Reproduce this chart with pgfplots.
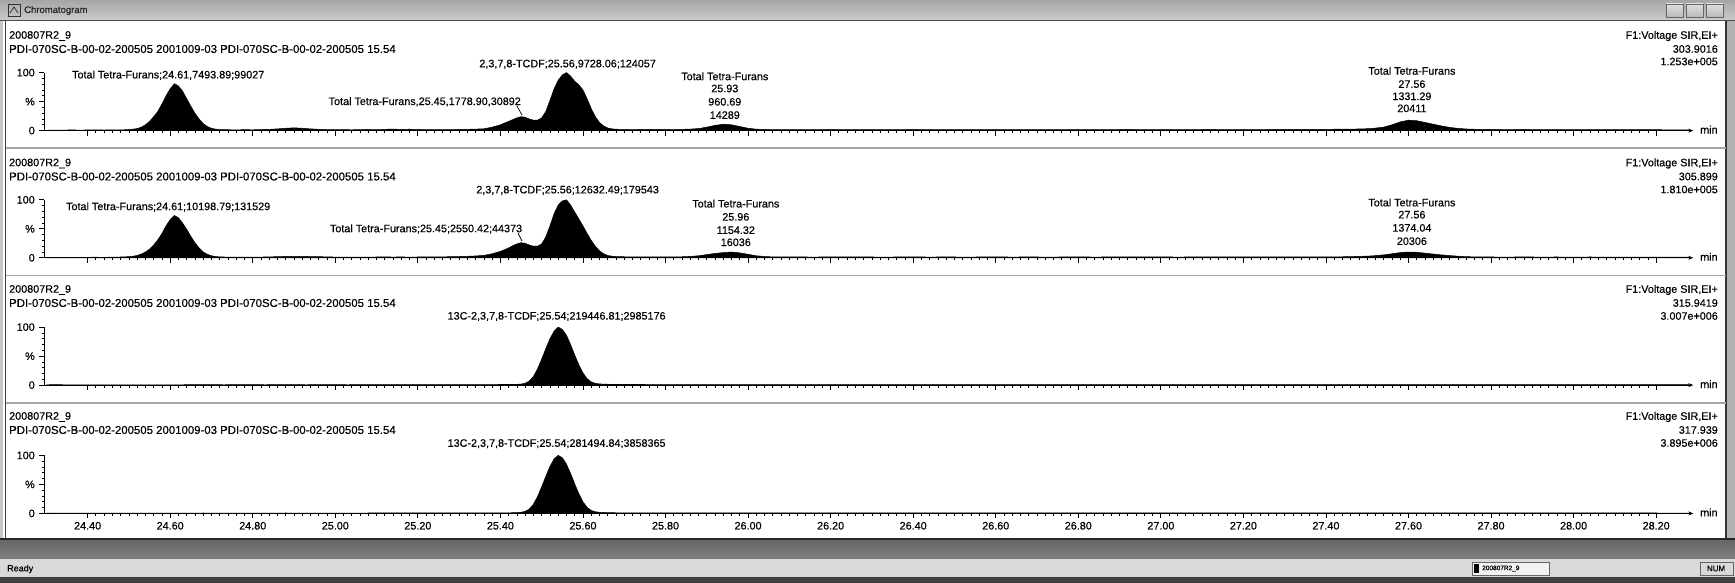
\documentclass[border=0pt]{standalone}
\usepackage{pgfplots}
\pgfplotsset{compat=1.18}
\usepackage{pgfplotstable}
\usepackage{fontspec}
\setmainfont{Liberation Sans}[BoldFont=Liberation Sans, BoldFeatures={FakeBold=0.4}]
\usetikzlibrary{arrows.meta}
\newcommand{\fs}{\fontsize{10.8}{12}\selectfont\bfseries}
\newcommand{\txt}[4][center]{\node[anchor=#1, inner sep=0pt, font=\fs] at (#2pt,-#3pt) {#4};}

\pgfplotstableread{
x y
24.30 0.5
24.32 1.0
24.34 0.8
24.36 1.2
24.38 0.9
24.40 1.1
24.42 1.3
24.44 1.0
24.46 1.4
24.48 1.2
24.50 1.8
24.51 2.5
24.52 3.5
24.53 6
24.54 10
24.55 16
24.56 24
24.57 33
24.58 46
24.59 60
24.60 72
24.61 81
24.62 77
24.63 68
24.64 55
24.65 42
24.66 30
24.67 20
24.68 12
24.69 7
24.70 4
24.71 2.5
24.72 1.8
24.74 1.5
24.76 1.3
24.78 1.6
24.80 1.4
24.82 1.8
24.84 2.2
24.86 3.0
24.88 4.0
24.90 4.8
24.92 4.0
24.94 3.0
24.96 2.2
24.98 1.8
25.00 1.5
25.02 1.6
25.04 1.4
25.06 1.8
25.08 2.0
25.10 1.6
25.12 2.2
25.14 2.6
25.16 2.0
25.18 2.4
25.20 2.0
25.22 1.7
25.24 1.5
25.26 1.6
25.28 1.8
25.30 2.0
25.32 2.2
25.34 2.6
25.36 3.2
25.37 4.5
25.38 6
25.39 8
25.40 10
25.41 13
25.42 16
25.43 19
25.44 22
25.45 24
25.46 23
25.47 20
25.48 18
25.49 18
25.50 22
25.51 33
25.52 52
25.53 72
25.54 87
25.55 96
25.56 100
25.57 94
25.58 85
25.59 79
25.60 70
25.61 55
25.62 38
25.63 24
25.64 14
25.65 8
25.66 4.5
25.67 3
25.68 2.4
25.70 2.0
25.72 1.8
25.74 2.0
25.76 2.2
25.78 1.9
25.80 2.0
25.82 1.8
25.84 2.2
25.86 2.6
25.88 3.5
25.90 6
25.92 9
25.94 11
25.96 10
25.98 7
26.00 4
26.02 2.5
26.04 2.0
26.06 1.8
26.08 1.6
26.12 1.8
26.16 1.5
26.20 2.0
26.24 1.6
26.28 1.8
26.32 1.5
26.36 1.7
26.40 2.0
26.44 1.6
26.48 1.8
26.52 1.5
26.56 1.7
26.60 1.9
26.64 1.6
26.68 1.8
26.72 1.5
26.76 1.7
26.80 1.9
26.84 1.6
26.88 1.8
26.92 2.0
26.96 1.7
27.00 1.9
27.04 1.6
27.08 1.8
27.12 2.0
27.16 1.7
27.20 1.9
27.24 1.8
27.28 2.0
27.32 2.2
27.36 2.0
27.40 2.2
27.44 2.5
27.48 2.8
27.51 3.5
27.54 6
27.56 10
27.58 15
27.60 18
27.62 17
27.64 14
27.66 11
27.68 8
27.70 5.5
27.72 3.8
27.74 2.8
27.76 2.3
27.80 2.0
27.84 1.8
27.88 2.0
27.92 1.7
27.96 1.9
28.00 1.6
28.04 1.8
28.08 1.5
28.12 1.7
28.16 1.6
28.20 1.5
28.24 1.4
28.28 1.3
}\panelA

\pgfplotstableread{
x y
24.30 0.4
24.32 0.8
24.34 0.6
24.36 0.9
24.38 0.7
24.40 0.9
24.42 1.0
24.44 0.8
24.46 1.1
24.48 1.4
24.50 2.0
24.51 2.8
24.52 4
24.53 6.5
24.54 10
24.55 15
24.56 22
24.57 31
24.58 42
24.59 55
24.60 66
24.61 73
24.62 69
24.63 60
24.64 49
24.65 37
24.66 26
24.67 17
24.68 10
24.69 6
24.70 3.5
24.71 2.2
24.72 1.6
24.74 1.2
24.76 1.0
24.78 1.2
24.80 1.1
24.82 1.3
24.84 1.6
24.86 2.0
24.88 2.4
24.90 2.6
24.92 2.4
24.94 2.2
24.96 2.0
24.98 1.6
25.00 1.3
25.02 1.2
25.04 1.1
25.06 1.3
25.08 1.2
25.10 1.4
25.12 1.6
25.14 1.3
25.16 1.5
25.18 1.2
25.20 1.4
25.22 1.6
25.24 1.4
25.26 1.7
25.28 1.9
25.30 2.2
25.32 2.6
25.34 3.2
25.36 4.2
25.37 5.5
25.38 7
25.39 9
25.40 11
25.41 14
25.42 17
25.43 21
25.44 24
25.45 26
25.46 25
25.47 22
25.48 20
25.49 20
25.50 24
25.51 36
25.52 55
25.53 76
25.54 91
25.55 98
25.56 100
25.57 91
25.58 79
25.59 67
25.60 55
25.61 42
25.62 30
25.63 20
25.64 12
25.65 7
25.66 4
25.67 2.8
25.68 2.2
25.70 1.8
25.72 1.6
25.74 1.5
25.76 1.7
25.78 1.5
25.80 1.6
25.82 1.4
25.84 1.8
25.86 2.4
25.88 3.5
25.90 5.5
25.92 7.5
25.94 9
25.96 10
25.98 8.5
26.00 6
26.02 3.5
26.04 2.2
26.06 1.6
26.08 1.4
26.12 1.5
26.16 1.3
26.20 1.6
26.24 1.4
26.28 1.5
26.32 1.3
26.36 1.4
26.40 1.6
26.44 1.3
26.48 1.5
26.52 1.3
26.56 1.4
26.60 1.6
26.64 1.3
26.68 1.5
26.72 1.3
26.76 1.4
26.80 1.6
26.84 1.3
26.88 1.5
26.92 1.7
26.96 1.4
27.00 1.6
27.04 1.3
27.08 1.5
27.12 1.7
27.16 1.4
27.20 1.6
27.24 1.5
27.28 1.6
27.32 1.8
27.36 1.6
27.40 1.7
27.44 1.8
27.48 2.4
27.51 3.2
27.54 5
27.56 7
27.58 9
27.60 10
27.62 9.5
27.64 8
27.66 6.5
27.68 5
27.70 3.8
27.72 2.8
27.74 2.0
27.76 1.6
27.80 1.4
27.84 1.3
27.88 1.5
27.92 1.3
27.96 1.4
28.00 1.2
28.04 1.4
28.08 1.2
28.12 1.3
28.16 1.2
28.20 1.1
28.24 1.0
28.28 1.0
}\panelB

\pgfplotstableread{
x y
24.30 0.4
24.32 1.0
24.34 0.6
24.38 0.5
24.43 0.6
24.48 0.5
24.53 0.6
24.58 0.5
24.63 0.6
24.68 0.7
24.73 0.6
24.78 0.7
24.83 0.6
24.88 0.7
24.93 0.6
24.98 0.7
25.03 0.6
25.08 0.7
25.13 0.8
25.18 0.9
25.23 0.9
25.28 0.9
25.33 1.0
25.38 1.0
25.42 1.1
25.44 1.3
25.45 1.8
25.46 3.2
25.47 7
25.48 15
25.49 28
25.50 45
25.51 63
25.52 80
25.53 93
25.54 100
25.55 96
25.56 86
25.57 70
25.58 52
25.59 35
25.60 21
25.61 11
25.62 5.5
25.63 3
25.64 2
25.66 1.5
25.68 1.2
25.72 1.1
25.77 1.0
25.82 1.0
25.87 0.9
25.92 1.0
25.97 0.9
26.02 0.9
26.10 0.9
26.20 0.8
26.30 0.9
26.40 0.8
26.50 0.8
26.60 0.9
26.70 0.8
26.80 0.8
26.90 0.9
27.00 0.8
27.10 0.8
27.20 0.9
27.30 0.8
27.40 0.8
27.50 0.9
27.60 0.8
27.70 0.8
27.80 0.9
27.90 0.8
28.00 0.8
28.10 0.8
28.20 0.8
28.28 0.7
}\panelC

\pgfplotstableread{
x y
24.30 0.4
24.32 0.7
24.34 0.5
24.38 0.5
24.43 0.5
24.48 0.5
24.53 0.6
24.58 0.5
24.63 0.6
24.68 0.7
24.73 0.6
24.78 0.6
24.83 0.6
24.88 0.7
24.93 0.6
24.98 0.6
25.03 0.6
25.08 0.7
25.13 0.7
25.18 0.8
25.23 0.8
25.28 0.8
25.33 0.9
25.38 0.9
25.42 1.0
25.44 1.4
25.45 2.0
25.46 3.5
25.47 7.5
25.48 16
25.49 29
25.50 46
25.51 64
25.52 81
25.53 94
25.54 100
25.55 96
25.56 85
25.57 69
25.58 51
25.59 34
25.60 20
25.61 10.5
25.62 5
25.63 2.8
25.64 1.9
25.66 1.4
25.68 1.1
25.72 1.0
25.77 0.9
25.82 0.9
25.87 0.8
25.92 0.9
25.97 0.8
26.02 0.8
26.10 0.8
26.20 0.7
26.30 0.8
26.40 0.7
26.50 0.7
26.60 0.8
26.70 0.7
26.80 0.7
26.90 0.8
27.00 0.7
27.10 0.7
27.20 0.8
27.30 0.7
27.40 0.7
27.50 0.8
27.60 0.7
27.70 0.7
27.80 0.8
27.90 0.7
28.00 0.7
28.10 0.7
28.20 0.7
28.28 0.6
}\panelD

\pgfplotsset{
  panel/.style={
    width=1649pt, height=58pt, scale only axis,
    xmin=24.295, xmax=28.29, ymin=0, ymax=100,
    clip=false,
    axis x line*=bottom, axis y line*=left,
    x axis line style={line width=1pt,-{Stealth[length=5pt,width=4pt]}},
    y axis line style={line width=1pt,-},
    xtick={24.4,24.6,24.8,25.0,25.2,25.4,25.6,25.8,26.0,26.2,26.4,26.6,26.8,27.0,27.2,27.4,27.6,27.8,28.0,28.2},
    minor x tick num=9,
    ytick={0,50,100}, yticklabels={0,\%,100},
    minor y tick num=4,
    tick align=outside,
    major tick length=5pt, minor tick length=2.5pt,
    every tick/.style={black, line width=0.8pt},
    tick label style={font=\fs},
    yticklabel style={xshift=-1pt},
    xticklabels={},
  },
  peak/.style={fill=black, draw=black, line width=0.5pt}
}

\newcommand{\header}[6]{%
  \node[anchor=west, inner sep=0pt, font=\fs] at (9pt,-#1pt) {200807R2\_9};
  \node[anchor=west, inner sep=0pt, font=\fontsize{11.4}{12}\selectfont\bfseries] at (9pt,-#2pt) {PDI-070SC-B-00-02-200505 2001009-03 PDI-070SC-B-00-02-200505 15.54};
  \node[anchor=east, inner sep=0pt, font=\fs] at (1718pt,-#1pt) {F1:Voltage SIR,EI+};
  \node[anchor=east, inner sep=0pt, font=\fs] at (1718pt,-#2pt) {#4};
  \node[anchor=east, inner sep=0pt, font=\fs] at (1718pt,-#3pt) {#5};
  \node[anchor=west, inner sep=0pt, font=\fs] at (1700pt,-#6pt) {min};
}

\begin{document}
\begin{tikzpicture}
\path[use as bounding box] (0pt,0pt) rectangle (1735pt,-583pt);
\fill[white] (0pt,0pt) rectangle (1735pt,-583pt);

% window chrome: title bar
\shade[top color=gray!70, bottom color=gray!40] (0pt,0pt) rectangle (1735pt,-21pt);
\draw[black!70, line width=1pt] (0pt,-21pt) -- (1735pt,-21pt);
\draw[black!80, line width=0.8pt] (8pt,-4pt) rectangle (20pt,-16pt);
\draw[black!80, line width=0.8pt] (10pt,-13pt) -- (14pt,-7pt) -- (18pt,-13pt);
\node[anchor=west, inner sep=0pt, font=\fontsize{9.5}{10}\selectfont\bfseries, text=black!85] at (24pt,-10.5pt) {Chromatogram};
\foreach \bx/\ex in {1666/1683,1686/1703,1706/1723} {
  \shade[top color=gray!25, bottom color=gray!55, draw=black!60] (\bx pt,-4pt) rectangle (\ex pt,-17pt);
}
% left and right borders
\fill[gray!45] (0pt,-21pt) rectangle (3pt,-540pt);
\draw[black!75, line width=1pt] (5.5pt,-21pt) -- (5.5pt,-540pt);
\fill[gray!60] (1726pt,-21pt) rectangle (1735pt,-540pt);
\draw[black!80, line width=1.2pt] (1726pt,-21pt) -- (1726pt,-540pt);

% panel separators
\draw[gray!70, line width=1.5pt] (6pt,-148pt) -- (1726pt,-148pt);
\draw[gray!70, line width=1.5pt] (6pt,-275.5pt) -- (1726pt,-275.5pt);
\draw[gray!70, line width=1.5pt] (6pt,-403pt) -- (1726pt,-403pt);

% bottom bars
\shade[top color=black!60, bottom color=black!50] (0pt,-539pt) rectangle (1735pt,-559pt);
\draw[black!85, line width=1.2pt] (0pt,-539pt) -- (1735pt,-539pt);
\fill[gray!30] (0pt,-559pt) rectangle (1735pt,-577pt);
\fill[black!75] (0pt,-577pt) rectangle (1735pt,-583pt);
\node[anchor=west, inner sep=0pt, font=\fontsize{9}{10}\selectfont\bfseries] at (7pt,-569pt) {Ready};
\draw[black!60, fill=gray!10] (1472pt,-562pt) rectangle (1549pt,-575pt);
\fill[black] (1474pt,-564pt) rectangle (1479pt,-573pt);
\node[anchor=west, inner sep=0pt, font=\fontsize{6.5}{7}\selectfont\bfseries] at (1482pt,-568.5pt) {200807R2\_9};
\draw[black!60] (1700pt,-562pt) rectangle (1733pt,-575pt);
\node[inner sep=0pt, font=\fontsize{8}{9}\selectfont\bfseries] at (1716pt,-568.5pt) {NUM};

% ---------- panel 1 ----------
\begin{axis}[panel, at={(44.3pt,-130.6pt)}, anchor=origin]
\addplot[peak] table[x=x,y=y] {\panelA} \closedcycle;
\end{axis}
% ---------- panel 2 ----------
\begin{axis}[panel, at={(44.3pt,-257.8pt)}, anchor=origin]
\addplot[peak] table[x=x,y=y] {\panelB} \closedcycle;
\end{axis}
% ---------- panel 3 ----------
\begin{axis}[panel, at={(44.3pt,-385.1pt)}, anchor=origin]
\addplot[peak] table[x=x,y=y] {\panelC} \closedcycle;
\end{axis}
% ---------- panel 4 ----------
\begin{axis}[panel, at={(44.3pt,-513.4pt)}, anchor=origin,
  xticklabels={24.40,24.60,24.80,25.00,25.20,25.40,25.60,25.80,26.00,26.20,26.40,26.60,26.80,27.00,27.20,27.40,27.60,27.80,28.00,28.20}]
\addplot[peak] table[x=x,y=y] {\panelD} \closedcycle;
\end{axis}

% ---------- headers ----------
\header{36}{49}{61.5}{303.9016}{1.253e+005}{129.6}
\header{163.5}{176.5}{189.5}{305.899}{1.810e+005}{256.8}
\header{290}{303}{316}{315.9419}{3.007e+006}{384.1}
\header{417}{430}{443}{317.939}{3.895e+006}{512.4}

% ---------- peak annotations, panel 1 ----------
\txt{168.2}{75.2}{Total Tetra-Furans;24.61,7493.89;99027}
\txt{567.6}{64.2}{2,3,7,8-TCDF;25.56,9728.06;124057}
\txt[east]{521}{101.8}{Total Tetra-Furans,25.45,1778.90,30892}
\draw[black, line width=0.7pt] (517pt,-106pt) -- (522pt,-115pt);
\txt{724.8}{76.3}{Total Tetra-Furans}
\txt{724.8}{88.5}{25.93}
\txt{724.8}{101.8}{960.69}
\txt{724.8}{115.1}{14289}
\txt{1411.9}{70.8}{Total Tetra-Furans}
\txt{1411.9}{84.1}{27.56}
\txt{1411.9}{96.3}{1331.29}
\txt{1411.9}{108.4}{20411}

% ---------- peak annotations, panel 2 ----------
\txt{168.2}{206.9}{Total Tetra-Furans;24.61;10198.79;131529}
\txt{567.6}{190.3}{2,3,7,8-TCDF;25.56;12632.49;179543}
\txt[east]{522.3}{229}{Total Tetra-Furans;25.45;2550.42;44373}
\draw[black, line width=0.7pt] (518pt,-233pt) -- (522pt,-241pt);
\txt{735.8}{203.6}{Total Tetra-Furans}
\txt{735.8}{216.9}{25.96}
\txt{735.8}{230.2}{1154.32}
\txt{735.8}{242.3}{16036}
\txt{1411.9}{202.5}{Total Tetra-Furans}
\txt{1411.9}{214.7}{27.56}
\txt{1411.9}{227.9}{1374.04}
\txt{1411.9}{241.2}{20306}

% ---------- peak annotations, panels 3 and 4 ----------
\txt{556.6}{316.5}{13C-2,3,7,8-TCDF;25.54;219446.81;2985176}
\txt{556.6}{443.7}{13C-2,3,7,8-TCDF;25.54;281494.84;3858365}
\end{tikzpicture}
\end{document}
